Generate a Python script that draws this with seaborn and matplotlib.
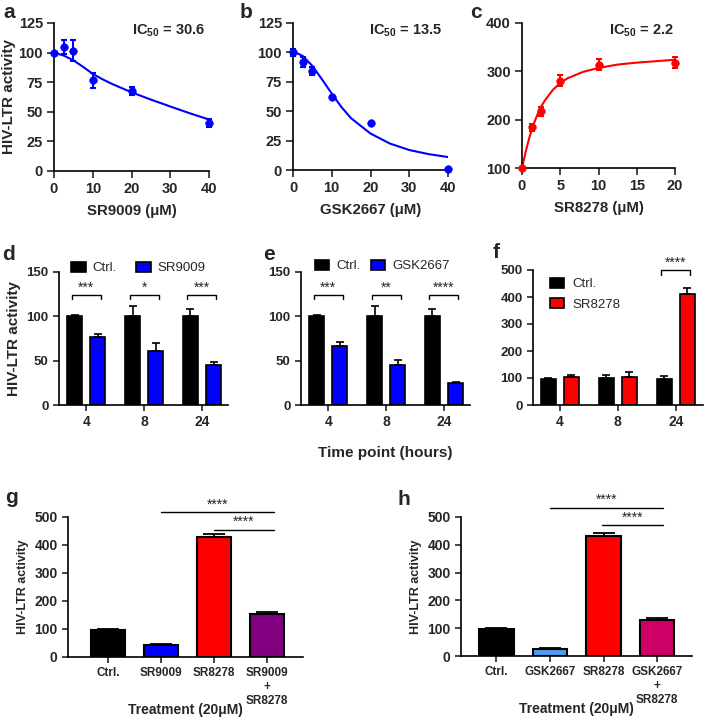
import numpy as np
import pandas as pd
import seaborn as sns
import matplotlib.pyplot as plt

sns.set_style("ticks")
plt.rcParams['font.family'] = ['Liberation Sans', 'DejaVu Sans']
plt.rcParams['mathtext.fontset'] = 'custom'
plt.rcParams['mathtext.rm'] = 'Liberation Sans'
plt.rcParams['mathtext.bf'] = 'Liberation Sans:bold'
plt.rcParams['axes.linewidth'] = 1.2
plt.rcParams['axes.edgecolor'] = 'black'

BLUE = '#0000ff'
RED = '#ff0000'

# --- a-c: dose response (mean, SEM) and fitted curves
dose_a = [0, 2.5, 5, 10, 20, 40]
act_a = [100, 105, 101.5, 76.5, 67.5, 40.8]
sem_a = [0, 6, 9, 6, 3.2, 3.4]
fit_x_a = [0, 2.5, 5, 7.5, 10, 12.5, 15, 20, 25, 30, 35, 40]
fit_y_a = [100, 97.5, 93.5, 88, 82, 77.5, 73.5, 66.5, 60.3, 54.5, 48.8, 43.5]

dose_b = [0, 2.5, 5, 10, 20, 40]
act_b = [100, 92, 84.5, 62, 40, 1]
sem_b = [3, 4.2, 3.4, 0, 0, 0]
fit_x_b = [0, 2.5, 5, 7.5, 10, 12.5, 15, 20, 25, 30, 35, 40]
fit_y_b = [101, 97, 88.5, 77, 65, 53.5, 44, 31, 22.5, 17, 13.5, 11]

dose_c = [0, 1.25, 2.5, 5, 10, 20]
act_c = [100, 184, 217, 281, 314, 318]
sem_c = [0, 8, 10, 11, 11, 12]
fit_x_c = [0, 0.5, 1, 1.5, 2, 2.5, 3, 4, 5, 6, 8, 10, 12.5, 15, 17.5, 20]
fit_y_c = [100, 135, 165, 190, 210, 227, 240, 261, 276, 286, 299, 307, 314, 318, 321, 324]

# --- d-f: time course
times = ['4', '8', '24']
ctrl_d = [100, 100, 100]
ctrl_d_sem = [1, 11.5, 8]
sr9009_d = [76.5, 61, 45]
sr9009_d_sem = [3.5, 8.5, 3]

ctrl_e = [100, 100, 100]
ctrl_e_sem = [1, 11.5, 8]
gsk_e = [66, 45, 24.5]
gsk_e_sem = [5.5, 5.5, 2]

ctrl_f = [97.5, 99, 97.5]
ctrl_f_sem = [2, 13, 10]
sr8278_f = [104, 102, 412]
sr8278_f_sem = [6, 20, 22]

stars_d = ['***', '*', '***']
stars_e = ['***', '**', '****']

# --- g-h: combination treatments
labels_g = ['Ctrl.', 'SR9009', 'SR8278', 'SR9009\n+\nSR8278']
values_g = [98, 44, 430, 155]
sem_g = [3, 3, 11, 5]
colors_g = ['black', BLUE, RED, '#800080']

labels_h = ['Ctrl.', 'GSK2667', 'SR8278', 'GSK2667\n+\nSR8278']
values_h = [98, 25, 430, 131]
sem_h = [3, 3.5, 11, 5]
colors_h = ['black', '#4f9bf0', RED, '#cc0066']

W, H = 706, 717
fig = plt.figure(figsize=(W / 100, H / 100), dpi=100)


def px_axes(left, top, right, bottom):
    return fig.add_axes([left / W, 1 - bottom / H, (right - left) / W, (bottom - top) / H])


def style(ax, fs=9.5, length=4, pad=3.5):
    sns.despine(ax=ax)
    ax.tick_params(length=length, width=1.2, labelsize=fs, direction='out', pad=pad)
    for lab in ax.get_xticklabels() + ax.get_yticklabels():
        lab.set_fontweight('bold')


def dose_panel(ax, dose, act, sem, fx, fy, color, xlabel, ic50, xpos):
    sns.lineplot(x=fx, y=fy, color=color, lw=1.5, ax=ax)
    ax.errorbar(dose, act, yerr=sem, fmt='none', ecolor=color, elinewidth=1.5,
                capsize=2.5, capthick=1.5, clip_on=False)
    sns.scatterplot(x=dose, y=act, color=color, s=30, edgecolor=color, ax=ax,
                    clip_on=False, zorder=5)
    ax.set_xlabel(xlabel, fontsize=10.8, fontweight='bold', labelpad=6)
    ax.text(xpos, 0.95, r'IC$_{\mathbf{50}}$ = ' + ic50, transform=ax.transAxes,
            ha='center', va='center', fontsize=10.5, fontweight='bold')


ax_a = px_axes(54, 23, 209, 171)
dose_panel(ax_a, dose_a, act_a, sem_a, fit_x_a, fit_y_a, BLUE, 'SR9009 (μM)', '30.6', 0.74)
ax_a.set_xlim(0, 40)
ax_a.set_ylim(0, 125)
ax_a.set_xticks([0, 10, 20, 30, 40])
ax_a.set_yticks([0, 25, 50, 75, 100, 125])
ax_a.set_ylabel('HIV-LTR activity', fontsize=11, fontweight='bold', labelpad=2)
style(ax_a, 10.5, 5, 3)

ax_b = px_axes(293, 23, 448, 170)
dose_panel(ax_b, dose_b, act_b, sem_b, fit_x_b, fit_y_b, BLUE, 'GSK2667 (μM)', '13.5', 0.73)
ax_b.set_xlim(0, 40)
ax_b.set_ylim(0, 125)
ax_b.set_xticks([0, 10, 20, 30, 40])
ax_b.set_yticks([0, 25, 50, 75, 100, 125])
style(ax_b, 10.5, 5, 3)

ax_c = px_axes(522, 23, 675, 168)
dose_panel(ax_c, dose_c, act_c, sem_c, fit_x_c, fit_y_c, RED, 'SR8278 (μM)', '2.2', 0.78)
ax_c.set_xlim(0, 20)
ax_c.set_ylim(100, 400)
ax_c.set_xticks([0, 5, 10, 15, 20])
ax_c.set_yticks([100, 200, 300, 400])
style(ax_c, 10.5, 5, 3)


def add_errs(ax, sems, capsize, lw=1.2):
    for cont, err in zip(ax.containers, sems):
        xs = [p.get_x() + p.get_width() / 2 for p in cont.patches]
        ys = [p.get_height() for p in cont.patches]
        ax.errorbar(xs, ys, yerr=[np.zeros(len(err)), err], fmt='none', ecolor='black',
                    elinewidth=lw, capsize=capsize, capthick=lw, zorder=1)


def bracket(ax, x0, x1, y, h, text, fs=10):
    ax.plot([x0, x0, x1, x1], [y - h, y, y, y - h], color='black', lw=1, clip_on=False)
    ax.text((x0 + x1) / 2, y, text, ha='center', va='bottom', fontsize=fs, clip_on=False)


def time_panel(ax, ctrl, ctrl_sem, drug, drug_sem, name, color):
    df = pd.DataFrame({'time': times * 2,
                       'group': ['Ctrl.'] * 3 + [name] * 3,
                       'value': ctrl + drug})
    sns.barplot(data=df, x='time', y='value', hue='group', order=times,
                hue_order=['Ctrl.', name], palette=['black', color], errorbar=None,
                saturation=1, width=0.8, gap=0.35, edgecolor='black', linewidth=1.2, ax=ax)
    add_errs(ax, [ctrl_sem, drug_sem], capsize=3)
    ax.set_xlabel('')
    ax.set_ylabel('')
    ax.set_xlim(-0.47, 2.45)
    style(ax, 9.5)
    ax.tick_params(axis='x', labelsize=10)


ax_d = px_axes(59, 272, 228, 405)
time_panel(ax_d, ctrl_d, ctrl_d_sem, sr9009_d, sr9009_d_sem, 'SR9009', BLUE)
ax_d.set_ylim(0, 150)
ax_d.set_yticks([0, 50, 100, 150])
ax_d.set_ylabel('HIV-LTR activity', fontsize=11, fontweight='bold')
for i, s in enumerate(stars_d):
    bracket(ax_d, i - 0.25, i + 0.25, 124, 4, s)
sns.move_legend(ax_d, 'center', bbox_to_anchor=(0.47, 1.03), ncol=2, frameon=False,
                title=None, fontsize=9.5, handlelength=1.1, handleheight=0.8,
                columnspacing=1.5, handletextpad=0.5)

ax_e = px_axes(301, 272, 470, 405)
time_panel(ax_e, ctrl_e, ctrl_e_sem, gsk_e, gsk_e_sem, 'GSK2667', BLUE)
ax_e.set_ylim(0, 150)
ax_e.set_yticks([0, 50, 100, 150])
ax_e.set_xlabel('Time point (hours)', fontsize=11, fontweight='bold', labelpad=12)
for i, s in enumerate(stars_e):
    bracket(ax_e, i - 0.25, i + 0.25, 124, 4, s)
sns.move_legend(ax_e, 'center', bbox_to_anchor=(0.48, 1.045), ncol=2, frameon=False,
                title=None, fontsize=9.5, handlelength=1.1, handleheight=0.8,
                columnspacing=0.8, handletextpad=0.5)

ax_f = px_axes(533, 270, 703, 405)
time_panel(ax_f, ctrl_f, ctrl_f_sem, sr8278_f, sr8278_f_sem, 'SR8278', RED)
ax_f.set_xlim(-0.46, 2.47)
ax_f.set_ylim(0, 500)
ax_f.set_yticks([0, 100, 200, 300, 400, 500])
bracket(ax_f, 2 - 0.25, 2 + 0.25, 500, 20, '****')
sns.move_legend(ax_f, 'upper left', bbox_to_anchor=(0.03, 1.03), ncol=1, frameon=False,
                title=None, fontsize=9.5, handlelength=1.1, handleheight=0.8,
                labelspacing=0.6, handletextpad=0.6)


def combo_panel(ax, labels, values, sems, colors, lines):
    sns.barplot(x=labels, y=values, hue=labels, palette=colors, legend=False, saturation=1,
                width=0.64, edgecolor='black', linewidth=1.5, ax=ax)
    add_errs(ax, [[s] for s in sems], capsize=8, lw=1.3)
    ax.set_ylim(0, 500)
    ax.set_yticks([0, 100, 200, 300, 400, 500])
    ax.set_ylabel('HIV-LTR activity', fontsize=9, fontweight='bold')
    ax.set_xlabel('Treatment (20μM)', fontsize=10, fontweight='bold', labelpad=-3)
    for x0, x1, y in lines:
        ax.plot([x0, x1], [y, y], color='black', lw=1, clip_on=False)
        ax.text((x0 + x1) / 2, y + 2, '****', ha='center', va='bottom', fontsize=10,
                clip_on=False)
    style(ax, 8.5)
    ax.tick_params(axis='y', labelsize=10)


ax_g = px_axes(68, 517, 303, 657)
combo_panel(ax_g, labels_g, values_g, sem_g, colors_g,
            [(1.0, 3.13, 517), (2.0, 3.13, 455)])
ax_g.set_xlim(-0.75, 3.68)

ax_h = px_axes(461, 517, 692, 656)
combo_panel(ax_h, labels_h, values_h, sem_h, colors_h,
            [(1.0, 3.1, 533), (1.97, 3.1, 470)])
ax_h.set_xlim(-0.66, 3.65)

# panel letters
for letter, x, y in [('a', 3, 18), ('b', 240, 18), ('c', 470, 18),
                     ('d', 2, 260), ('e', 263, 260), ('f', 493, 258),
                     ('g', 5, 503), ('h', 398, 505)]:
    fig.text(x / W, 1 - y / H, letter, fontsize=15, fontweight='bold', va='baseline')

fig.savefig('out.png', dpi=100)
